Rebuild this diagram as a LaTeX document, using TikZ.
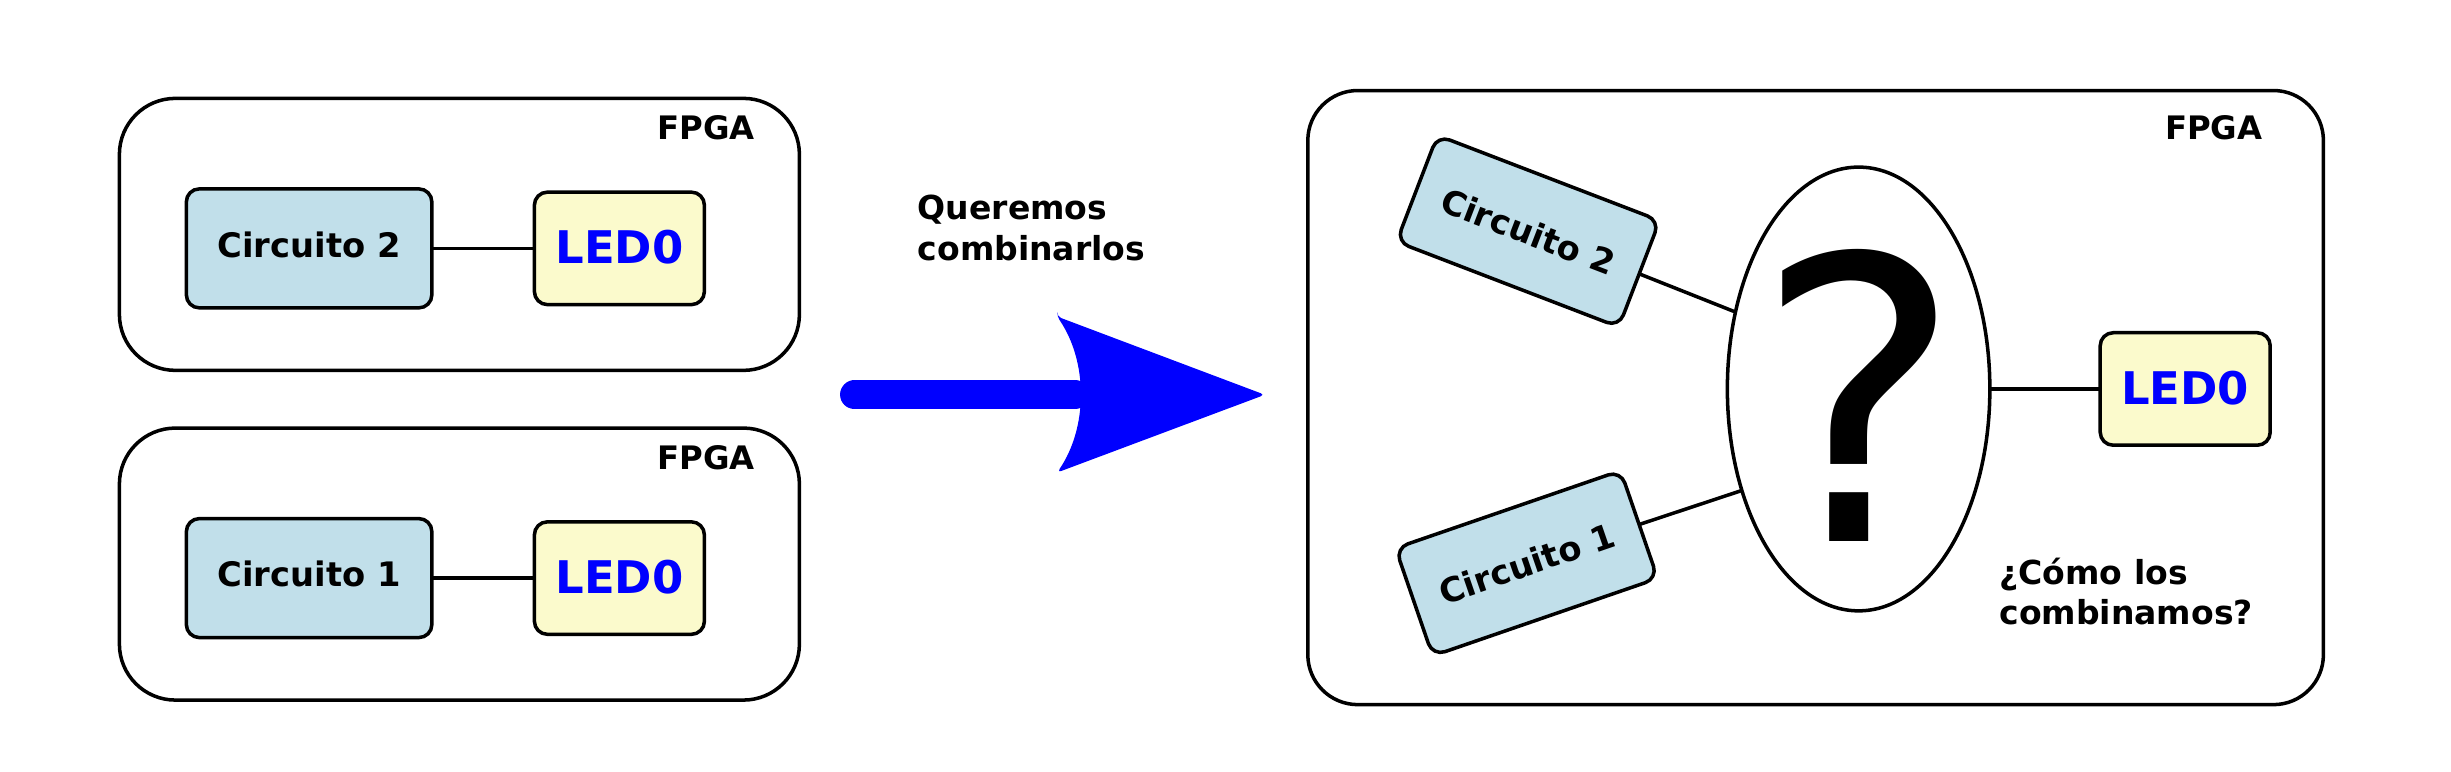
\documentclass[tikz,border=0pt]{standalone}
\usepackage{fontspec}
\setmainfont{DejaVu Sans}
\usetikzlibrary{shapes.geometric, positioning}
\definecolor{circblue}{RGB}{193,223,234}
\definecolor{ledyellow}{RGB}{251,250,204}

\begin{document}
\begin{tikzpicture}[
    every node/.style={inner sep=0pt, outer sep=0pt},
    fpga/.style={draw, line width=1pt, rectangle, rounded corners=0.56cm, minimum width=6.8cm, minimum height=2.72cm},
    circuito/.style={draw, line width=1pt, rectangle, rounded corners=0.13cm, fill=circblue, minimum width=2.455cm, minimum height=1.19cm, text depth=0.08cm, font=\fontsize{9.6}{11.5}\selectfont\bfseries},
    led/.style={draw, line width=1pt, rectangle, rounded corners=0.13cm, fill=ledyellow, text=blue, minimum width=1.7cm, minimum height=1.125cm, text depth=0.03cm, font=\fontsize{12.8}{14}\selectfont\bfseries},
    tag/.style={anchor=east, font=\fontsize{9.2}{11}\selectfont\bfseries},
    note/.style={anchor=base west, align=left, font=\fontsize{9.4}{11.6}\selectfont\bfseries},
    wire/.style={line width=1pt}
]
\useasboundingbox (0,0) rectangle (24.51,7.72);

\node[fpga] (fpga2) at (4.594,5.376) {};
\node[tag] (tag2) at (7.547,6.439) {FPGA};
\node[circuito] (c2) at (3.091,5.236) {Circuito 2};
\node[led] (led2) at (6.194,5.236) {LED0};

\node[fpga] (fpga1) at (4.594,2.079) {};
\node[tag] (tag1) at (7.547,3.142) {FPGA};
\node[circuito] (c1) at (3.091,1.939) {Circuito 1};
\node[led] (led1) at (6.194,1.939) {LED0};

\draw[wire] (c2) -- (led2);
\draw[wire] (c1) -- (led1);

\node[note] (want) at (9.177,5.114) {Queremos\\combinarlos};
\coordinate (shaftA) at (8.545,3.772);
\coordinate (shaftB) at (10.75,3.772);
\draw[blue, line width=0.289cm, line cap=round] (shaftA) -- (shaftB);
\fill[blue, rounded corners=1.2pt] (10.572,4.554) -- (12.648,3.772) -- (10.572,2.995)
    .. controls (10.88,3.45) and (10.88,4.1) .. (10.572,4.554) -- cycle;

\node[fpga, rounded corners=0.5cm, minimum width=10.156cm, minimum height=6.141cm] (fpga) at (18.156,3.744) {};
\node[tag] (tag) at (22.625,6.439) {FPGA};
\node[circuito, rotate=-21, minimum width=2.38cm, minimum height=1.14cm, text depth=0pt] (c2r) at (15.281,5.408) {Circuito 2};
\node[circuito, rotate=19, minimum width=2.38cm, minimum height=1.14cm, text depth=0pt] (c1r) at (15.266,2.087) {Circuito 1};
\node[draw, ellipse, line width=1pt, minimum width=2.625cm, minimum height=4.4375cm] (q) at (18.586,3.83) {};
\node[font=\fontsize{112}{112}\selectfont] (qmark) at ([yshift=-0.06cm]q.center) {?};
\node[led] (led) at (21.852,3.83) {LED0};
\node[note] (how) at (19.994,1.471) {¿Cómo los\\combinamos?};

\draw[wire] (c2r.east) -- (q.148);
\draw[wire] (c1r.east) -- (q.221);
\draw[wire] (q) -- (led);

\end{tikzpicture}
\end{document}
